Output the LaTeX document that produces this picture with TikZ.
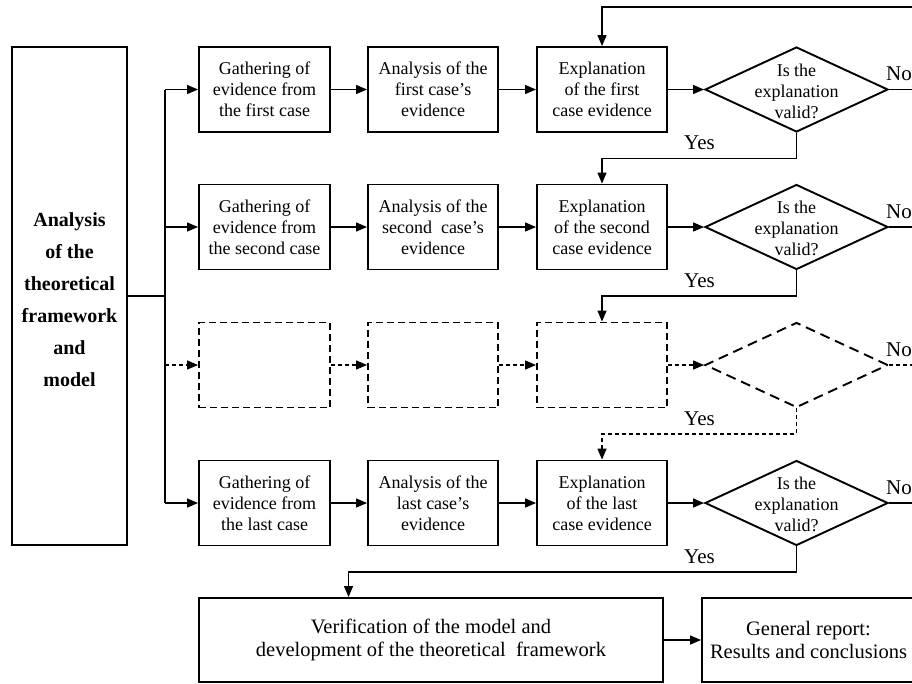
\documentclass[tikz,border=0pt]{standalone}
\usepackage{fontspec}
\setmainfont{Liberation Serif}
\usetikzlibrary{shapes.geometric,arrows.meta,calc}
\begin{document}
\begin{tikzpicture}[x=1pt,y=-1pt,
  box/.style={draw, line width=1.9pt, minimum width=130pt, minimum height=85pt,
    inner sep=0pt, align=center, font=\fontsize{18}{21}\selectfont},
  dbox/.style={box, dash pattern=on 7pt off 4pt},
  dia/.style={draw, diamond, line width=1.9pt, aspect=2.15, minimum width=183pt,
    minimum height=85pt, inner sep=0pt},
  ddia/.style={dia, dash pattern=on 10pt off 6pt},
  qtext/.style={align=center, inner sep=0pt, font=\fontsize{18}{21}\selectfont},
  lbl/.style={inner sep=0pt, anchor=base west, font=\fontsize{21}{24}\selectfont},
  line/.style={line width=1.3pt},
  dline/.style={line, dash pattern=on 4pt off 3pt},
  conn/.style={line width=1.3pt, -{Triangle[length=11pt,width=9pt]}},
  dconn/.style={conn, dash pattern=on 4pt off 3pt},
  bigbox/.style={box, minimum height=84pt, font=\fontsize{20.5}{23}\selectfont}
]
\useasboundingbox (0,0) rectangle (912,683);
\clip (0,0) rectangle (912,683);

% main box
\node[box, minimum width=115pt, minimum height=498pt] (main) at (69.5,296) {};
\node[inner sep=0pt, align=center, font=\bfseries\fontsize{20}{32}\selectfont]
  (mt) at (69.5,300) {Analysis\\of the\\theoretical\\framework\\and\\model};

% row 1
\node[box, minimum width=131pt] (g1) at (264.5,89.5) {Gathering of\\evidence from\\the first case};
\node[box] (a1) at (433,89.5) {Analysis of the\\first case’s\\evidence};
\node[box] (e1) at (602,89.5) {Explanation\\of the first\\case evidence};
\node[dia] (d1) at (796.5,89.5) {};
\node[qtext] (q1) at (796.5,91) {Is the\\explanation\\valid?};

% row 2
\node[box, minimum width=131pt] (g2) at (264.5,227) {Gathering of\\evidence from\\the second case};
\node[box] (a2) at (433,227) {Analysis of the\\second\ \ case’s\\evidence};
\node[box] (e2) at (602,227) {Explanation\\of the second\\case evidence};
\node[dia] (d2) at (796.5,227) {};
\node[qtext] (q2) at (796.5,228.5) {Is the\\explanation\\valid?};

% row 3 (dashed)
\node[dbox, minimum width=131pt] (g3) at (264.5,365) {};
\node[dbox] (a3) at (433,365) {};
\node[dbox] (e3) at (602,365) {};
\node[ddia] (d3) at (796.5,365) {};

% row 4
\node[box, minimum width=131pt] (g4) at (264.5,503) {Gathering of\\evidence from\\the last case};
\node[box] (a4) at (433,503) {Analysis of the\\last case’s\\evidence};
\node[box] (e4) at (602,503) {Explanation\\of the last\\case evidence};
\node[dia] (d4) at (796.5,503) {};
\node[qtext] (q4) at (796.5,504.5) {Is the\\explanation\\valid?};

% bottom
\node[bigbox, minimum width=464pt] (ver) at (431,640)
  {Verification of the model and\\development of the theoretical\ \ framework};
\node[bigbox, minimum width=213pt] (rep) at (808.5,640)
  {General report:\\Results and conclusions};

% branch
\coordinate (j) at (165,296);
\coordinate (bt) at (165,89.5);
\coordinate (bb) at (165,503);
\coordinate (b2) at (165,227);
\coordinate (b3) at (165,365);
\draw[line] (main.east) -- (j);
\draw[line] (bt) -- (bb);
\draw[conn] (bt) -- (g1);
\draw[conn] (b2) -- (g2);
\draw[dconn] (b3) -- (g3);
\draw[conn] (bb) -- (g4);

% row links
\draw[conn] (g1) -- (a1);
\draw[conn] (a1) -- (e1);
\draw[conn] (e1) -- (d1);
\draw[conn] (g2) -- (a2);
\draw[conn] (a2) -- (e2);
\draw[conn] (e2) -- (d2);
\draw[dconn] (g3) -- (a3);
\draw[dconn] (a3) -- (e3);
\draw[dconn] (e3) -- (d3);
\draw[conn] (g4) -- (a4);
\draw[conn] (a4) -- (e4);
\draw[conn] (e4) -- (d4);

% No loop
\coordinate (tp) at (930,7);
\coordinate (rb) at (930,503);
\draw[line] (d1.east) -- (d1.east -| tp);
\draw[line] (d2.east) -- (d2.east -| tp);
\draw[dline] (d3.east) -- (d3.east -| tp);
\draw[line] (d4.east) -- (d4.east -| tp);
\draw[line] (rb) -- (tp);
\draw[conn] (tp) -| (e1.north);

% Yes links
\coordinate (y1) at (796.5,158.5);
\coordinate (y2) at (796.5,296);
\coordinate (y3) at (796.5,434);
\coordinate (y4) at (796.5,572);
\draw[conn] (d1.south) -- (y1) -| (e2.north);
\draw[conn] (d2.south) -- (y2) -| (e3.north);
\draw[dconn] (d3.south) -- (y3) -| (e4.north);
\draw[conn] (d4.south) -- (y4) -| ($(ver.north west)!0.323!(ver.north east)$);
\draw[conn] (ver) -- (rep);

% labels
\node[lbl] (n1) at (886,80.5) {No};
\node[lbl] (n2) at (886,218) {No};
\node[lbl] (n3) at (886,356) {No};
\node[lbl] (n4) at (886,494) {No};
\node[lbl] (s1) at (684,149.5) {Yes};
\node[lbl] (s2) at (684,287) {Yes};
\node[lbl] (s3) at (684,425) {Yes};
\node[lbl] (s4) at (684,563) {Yes};
\end{tikzpicture}
\end{document}
